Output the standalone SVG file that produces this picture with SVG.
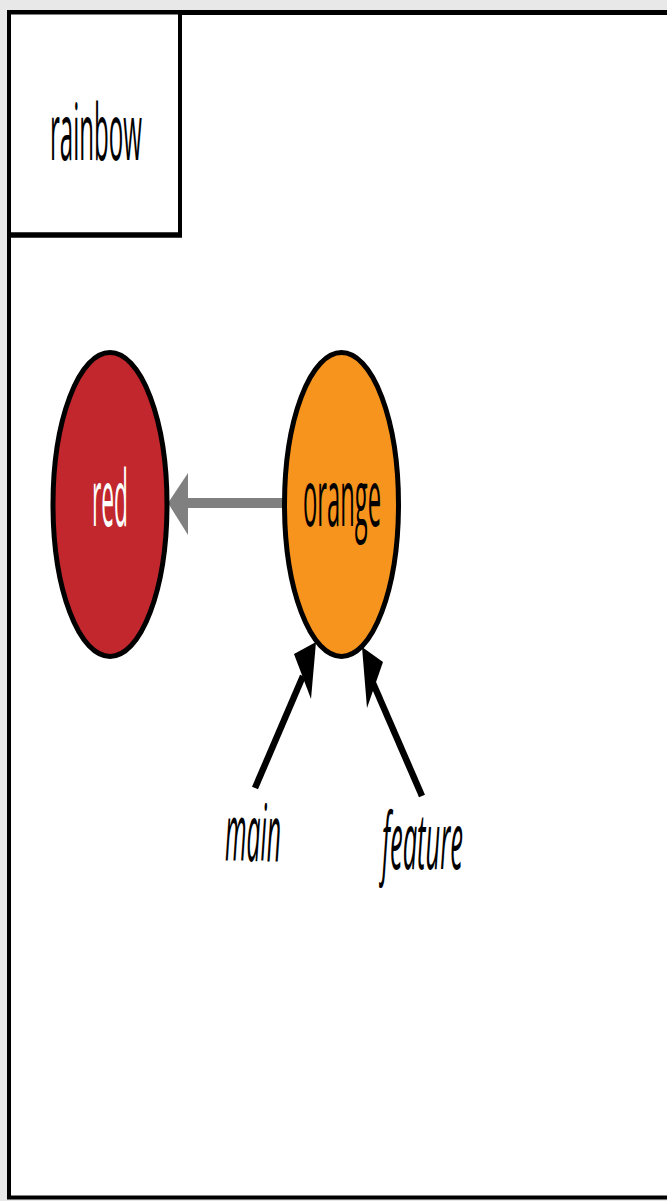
<svg xmlns="http://www.w3.org/2000/svg" width="667" height="1201" viewBox="0 0 667 1201">
<style>
.lbl{font-family:"Open Sans","Liberation Sans",sans-serif;font-size:24px}
.node{stroke:#000;stroke-width:5}
</style>
<rect x="0" y="0" width="667" height="1201" fill="#e8e8e8"/>
<rect x="9" y="12.5" width="670" height="1185" fill="#fff" stroke="#000" stroke-width="4"/>
<line x1="7" y1="12.5" x2="667" y2="12.5" stroke="#000" stroke-width="5"/>
<g id="rainbow">
<rect x="9" y="12.5" width="171" height="222.5" fill="#fff" stroke="#000" stroke-width="4"/>
<line x1="7" y1="235" x2="182" y2="235" stroke="#000" stroke-width="5.5"/>
<text class="lbl" transform="translate(50,160) scale(1,3.25)" textLength="92" lengthAdjust="spacingAndGlyphs" fill="#000">rainbow</text>
</g>
<g id="connectors">
<line x1="284" y1="503" x2="186" y2="503" stroke="#808080" stroke-width="10"/>
<polygon points="168,503 188,473 188,535" fill="#808080"/>
<line x1="255" y1="788" x2="303" y2="676" stroke="#000" stroke-width="6.5"/>
<polygon points="316,642 294,654 311,699" fill="#000"/>
<line x1="422" y1="796" x2="373" y2="683" stroke="#000" stroke-width="6.5"/>
<polygon points="362,647 383,662 367,708" fill="#000"/>
</g>
<g id="red">
<ellipse class="node" cx="110" cy="504.5" rx="57" ry="152" fill="#c1272d"/>
<text class="lbl" transform="translate(92,526) scale(1,3.25)" textLength="36" lengthAdjust="spacingAndGlyphs" fill="#fff">red</text>
</g>
<g id="orange">
<ellipse class="node" cx="341.5" cy="504.5" rx="57" ry="152" fill="#f7941d"/>
<text class="lbl" transform="translate(303,526) scale(1,3.25)" textLength="78" lengthAdjust="spacingAndGlyphs" fill="#000">orange</text>
</g>
<g id="main">
<text class="lbl" transform="translate(225,861) scale(1,3.25)" textLength="56" lengthAdjust="spacingAndGlyphs" font-style="italic" fill="#000">main</text>
</g>
<g id="feature">
<text class="lbl" transform="translate(382,869) scale(1,3.25)" textLength="81" lengthAdjust="spacingAndGlyphs" font-style="italic" fill="#000">feature</text>
</g>
</svg>
